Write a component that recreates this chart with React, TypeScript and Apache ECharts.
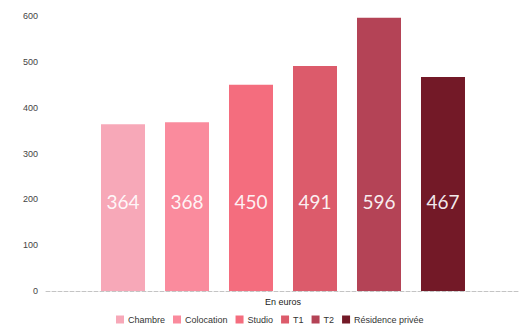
import React, { useEffect, useRef } from "react";
import * as echarts from "echarts";

const categories = ["En euros"];
const seriesNames = ["Chambre", "Colocation", "Studio", "T1", "T2", "Résidence privée"];
const seriesValues = [364, 368, 450, 491, 596, 467];
const seriesColors = ["#f7a8b8", "#fa8b9d", "#f46d7e", "#dc5b6b", "#b44356", "#731927"];
const yTicks = { min: 0, max: 600, interval: 100 };

export default function App() {
  const ref = useRef<HTMLDivElement>(null);
  useEffect(() => {
    if (!ref.current) return;
    const chart = echarts.init(ref.current, undefined, { renderer: "svg" });
    chart.setOption({
      animation: false,
      backgroundColor: "#ffffff",
      grid: { left: 46, right: 6, top: 16, bottom: 39 },
      legend: {
        bottom: 1,
        left: 111,
        itemWidth: 8,
        itemHeight: 8,
        itemGap: 8,
        icon: "rect",
        textStyle: { fontSize: 9, color: "#333", fontFamily: "Liberation Sans", padding: [0, 0, 0, -1] },
        data: seriesNames,
      },
      xAxis: {
        type: "category",
        data: categories,
        axisLine: { lineStyle: { color: "#c4c4c4", type: "dashed", width: 1 } },
        axisTick: { show: false },
        axisLabel: { fontSize: 9, color: "#222", fontFamily: "Liberation Sans", margin: 6 },
      },
      yAxis: {
        type: "value",
        min: yTicks.min,
        max: yTicks.max,
        interval: yTicks.interval,
        splitLine: { show: false },
        axisLine: { show: false },
        axisTick: { show: false },
        axisLabel: { fontSize: 9, color: "#444", fontFamily: "Liberation Sans", margin: 8 },
      },
      series: seriesNames.map((name, i) => ({
        name,
        type: "bar",
        barWidth: 44,
        barGap: "45.45%",
        itemStyle: { color: seriesColors[i] },
        label: {
          show: true,
          position: "insideBottom",
          distance: 80,
          color: "rgba(255,255,255,0.92)",
          fontSize: 19,
          fontFamily: "Lato",
        },
        data: [seriesValues[i]],
      })),
    });
    return () => chart.dispose();
  }, []);
  return <div ref={ref} style={{ width: 526, height: 330, position: "absolute", left: 0, top: 0 }} />;
}
